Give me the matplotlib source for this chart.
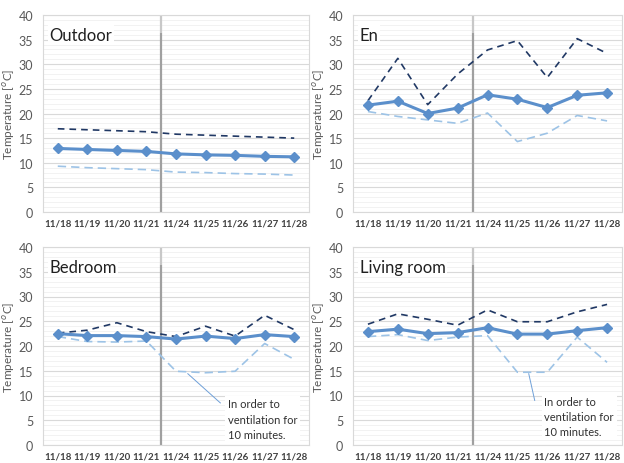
import matplotlib
matplotlib.use("Agg")
import matplotlib.pyplot as plt
from matplotlib.ticker import MultipleLocator

plt.rcParams["font.family"] = ["Lato", "DejaVu Sans"]

dates = ["11/18", "11/19", "11/20", "11/21", "11/24", "11/25", "11/26", "11/27", "11/28"]

outdoor_mean = [12.9, 12.7, 12.5, 12.3, 11.8, 11.6, 11.5, 11.3, 11.2]
outdoor_max = [16.9, 16.7, 16.5, 16.3, 15.8, 15.6, 15.4, 15.2, 15.0]
outdoor_min = [9.3, 9.0, 8.8, 8.6, 8.1, 8.0, 7.8, 7.7, 7.5]

en_mean = [21.7, 22.5, 20.0, 21.1, 23.8, 22.9, 21.2, 23.7, 24.2]
en_max = [22.6, 31.2, 21.8, 28.0, 32.9, 34.8, 27.3, 35.2, 32.2]
en_min = [20.4, 19.4, 18.7, 18.0, 20.1, 14.3, 16.0, 19.6, 18.5]

bed_mean = [22.5, 22.1, 22.1, 21.9, 21.4, 22.0, 21.5, 22.3, 21.9]
bed_max = [22.6, 23.2, 24.7, 22.9, 21.9, 24.0, 22.0, 26.2, 23.3]
bed_min = [21.9, 20.9, 20.8, 21.0, 14.9, 14.6, 14.9, 20.5, 17.3]

living_mean = [22.9, 23.4, 22.5, 22.7, 23.7, 22.4, 22.4, 23.1, 23.7]
living_max = [24.4, 26.5, 25.4, 24.2, 27.3, 24.9, 24.9, 26.9, 28.4]
living_min = [21.9, 22.3, 21.1, 21.8, 22.1, 14.7, 14.7, 21.8, 16.7]

note = "In order to\nventilation for\n10 minutes."

MEAN_C = "#5B8FCB"
MAX_C = "#203864"
MIN_C = "#9DC3E6"
GRID_C = "#D9D9D9"
TEXT_C = "#595959"

W, H = 624, 464
fig = plt.figure(figsize=(W / 100, H / 100), dpi=100)


def px_axes(left, top, right, bottom):
    return fig.add_axes([left / W, 1 - bottom / H, (right - left) / W, (bottom - top) / H])


def draw_panel(ax, title, mean, vmax, vmin, annot=None):
    x = list(range(len(dates)))
    ax.set_xlim(-0.5, len(dates) - 0.5)
    ax.set_ylim(0, 40)
    ax.yaxis.set_major_locator(MultipleLocator(5))
    ax.yaxis.set_minor_locator(MultipleLocator(1))
    ax.grid(axis="y", which="major", color=GRID_C, lw=0.8, zorder=0)
    ax.grid(axis="y", which="minor", color="#F0F0F0", lw=0.6, zorder=0)
    ax.set_axisbelow(True)
    for s in ax.spines.values():
        s.set_color(GRID_C)
        s.set_linewidth(0.8)
    ax.tick_params(axis="both", which="both", length=0, colors=TEXT_C)
    ax.tick_params(axis="y", labelsize=9, pad=7)
    ax.tick_params(axis="x", labelsize=7, pad=5)
    ax.set_xticks(x)
    ax.set_xticklabels(dates, fontweight="bold", color="#404040")
    ax.set_ylabel("Temperature [$^{o}$C]", fontsize=8.5, color=TEXT_C, labelpad=1)

    # separator between the two measurement weeks
    ax.vlines(3.5, 0, 36.3, color="#A0A0A0", lw=1.6, zorder=1)
    ax.vlines(3.5, 36.3, 40, color="#C8C8C8", lw=1.6, zorder=1)

    ax.plot(x, vmax, color=MAX_C, lw=1.2, ls=(0, (4, 3)), zorder=3)
    ax.plot(x, vmin, color=MIN_C, lw=1.2, ls=(0, (5, 3)), zorder=3)
    ax.plot(x, mean, color=MEAN_C, lw=2.2, marker="D", ms=5.5, zorder=4)

    ax.text(0.025, 0.94, title, transform=ax.transAxes, fontsize=12,
            va="top", ha="left", color="#202020",
            bbox=dict(facecolor="white", edgecolor="none", pad=1))

    if annot is not None:
        (tx, ty), (ax0, ay0), (ax1, ay1) = annot
        ax.plot([ax0, ax1], [ay0, ay1], color="#6FA0D8", lw=0.7, zorder=2)
        ax.text(tx, ty, note, fontsize=8, va="top", ha="left", color="#303030",
                linespacing=1.45, zorder=5,
                bbox=dict(facecolor="white", edgecolor="none", pad=2))


ax1 = px_axes(43, 16, 309, 213)
draw_panel(ax1, "Outdoor", outdoor_mean, outdoor_max, outdoor_min)

ax2 = px_axes(353, 16, 622, 213)
draw_panel(ax2, "En", en_mean, en_max, en_min)

ax3 = px_axes(43, 248, 309, 446)
draw_panel(ax3, "Bedroom", bed_mean, bed_max, bed_min,
           annot=((5.75, 9.4), (5.5, 8.5), (4.4, 14.4)))

ax4 = px_axes(353, 248, 622, 446)
draw_panel(ax4, "Living room", living_mean, living_max, living_min,
           annot=((5.9, 9.9), (5.58, 9.0), (5.38, 14.4)))

fig.savefig("out.png", dpi=100)
